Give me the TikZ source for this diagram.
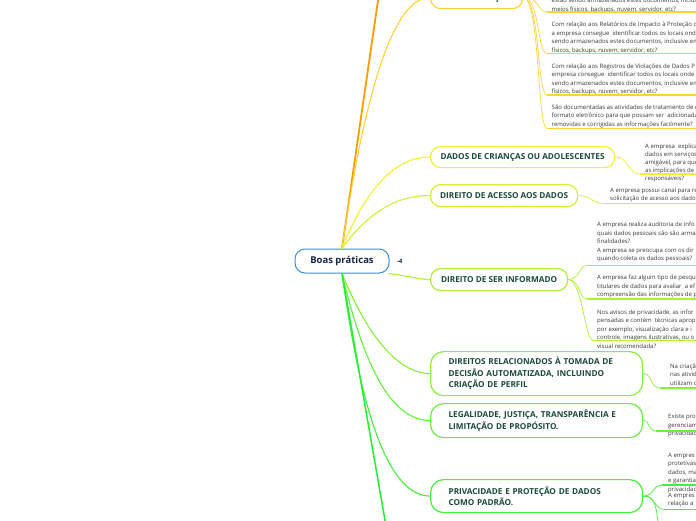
\documentclass[tikz,border=0pt]{standalone}
\usepackage{fontspec}
\setmainfont{Open Sans}
\usetikzlibrary{positioning}
\definecolor{ink}{HTML}{383838}
\definecolor{heading}{HTML}{1A4A3C}
\definecolor{rootblue}{HTML}{3C8FD2}
\definecolor{rootink}{HTML}{17264A}
\definecolor{amber}{HTML}{FF9C00}
\definecolor{docu}{HTML}{FFD334}
\definecolor{kids}{HTML}{F2F22C}
\definecolor{access}{HTML}{D2F22E}
\definecolor{inform}{HTML}{ACF232}
\definecolor{autom}{HTML}{86F236}
\definecolor{legal}{HTML}{64F23A}
\definecolor{bydef}{HTML}{42F23A}
\definecolor{lastbr}{HTML}{22F030}
\tikzset{
  every node/.style={font=\fontsize{6}{8.5}\selectfont,text=ink},
  root/.style={draw=rootblue,line width=1pt,rounded corners=10pt,fill=white,minimum width=94pt,minimum height=24pt,font=\fontsize{9.5}{11}\selectfont\bfseries,text=rootink},
  topic/.style={draw=#1,line width=1.2pt,rounded corners=10pt,fill=white,anchor=north west,inner sep=0pt,font=\fontsize{8.2}{11.5}\selectfont\bfseries,text=heading},
  widetopic/.style={topic=#1,text width=176pt,align=left,inner xsep=18pt,rounded corners=13pt},
  leaf/.style={anchor=north west,inner sep=0pt,align=left,execute at begin node=\strut},
  tightleaf/.style={leaf,font=\fontsize{6}{8}\selectfont},
  branch/.style={draw=#1,line width=1.1pt},
  twig/.style={draw=#1,line width=0.7pt},
  underrule/.style={draw=#1,line width=1.4pt},
}

\begin{document}
\begin{tikzpicture}[x=1pt,y=-1pt]
\useasboundingbox (0,0) rectangle (696,520);
\clip (0,0) rectangle (696,520);
\coordinate (edge) at (700,0);

% centre
\node[root] (root) at (342,261) {Boas práticas};
\node[right=4pt of root,font=\fontsize{6}{7}\selectfont\bfseries,text=rootink] (count) {-4};

% main topics
\node[topic=docu,minimum width=92pt,minimum height=22pt] (docu) at (430,-14) {DOCUMENTAÇÃO};
\node[topic=kids,minimum width=184pt,minimum height=21pt] (kids) at (430,146) {DADOS DE CRIANÇAS OU ADOLESCENTES};
\node[topic=access,minimum width=147pt,minimum height=22pt] (access) at (430,184) {DIREITO DE ACESSO AOS DADOS};
\node[topic=inform,minimum width=137pt,minimum height=22pt] (inform) at (430,268) {DIREITO DE SER INFORMADO};
\node[widetopic=autom,minimum height=44pt] (autom) at (430,351) {DIREITOS RELACIONADOS À TOMADA DE\\DECISÃO AUTOMATIZADA, INCLUINDO\\CRIAÇÃO DE PERFIL};
\node[widetopic=legal,minimum height=34pt] (legal) at (430,403) {LEGALIDADE, JUSTIÇA, TRANSPARÊNCIA E\\LIMITAÇÃO DE PROPÓSITO.};
\node[widetopic=bydef,minimum height=33pt] (bydef) at (430,479) {PRIVACIDADE E PROTEÇÃO DE DADOS\\COMO PADRÃO.};

% branches out of the centre
\coordinate (offtop) at (379.5,-10);
\coordinate (offbottom) at (386.7,530);
\draw[branch=amber,line width=1.8pt] (root.north) -- (offtop);
\draw[branch=docu] (root.north) .. controls (358,140) and (385,-3) .. (docu.west);
\draw[branch=kids] (root.north) .. controls (365,190) and (395,156.5) .. (kids.west);
\draw[branch=access] (root.north) .. controls (368,212) and (398,195) .. (access.west);
\draw[branch=inform] (root.-15) .. controls (405,275) and (415,279) .. (inform.west);
\draw[branch=autom] (root.south) .. controls (365,330) and (395,373) .. (autom.west);
\draw[branch=legal] (root.south) .. controls (365,370) and (392,420) .. (legal.west);
\draw[branch=bydef] (root.south) .. controls (362,420) and (390,495.5) .. (bydef.west);
\draw[branch=lastbr,line width=1.5pt] (root.south) -- (offbottom);

% documentacao
\node[leaf] (docA) at (551.5,-1.8) {estão sendo armazenados estes documentos, inclusive em\\meios físicos, backups, nuvem, servidor, etc?};
\node[leaf] (docB) at (551.5,21.8) {Com relação aos Relatórios de Impacto à Proteção d\\a empresa consegue~ identificar todos os locais ond\\sendo armazenados estes documentos, inclusive em\\físicos, backups, nuvem, servidor, etc?};
\node[leaf] (docC) at (551.5,63.5) {Com relação aos Registros de Violações de Dados P\\empresa consegue~ identificar todos os locais onde e\\sendo armazenados estes documentos, inclusive em\\físicos, backups, nuvem, servidor, etc?};
\node[leaf] (docD) at (551.5,104.5) {São documentadas as atividades de tratamento de d\\formato eletrônico para que possam ser~ adicionada\\removidas e corrigidas as informações facilmente?};
\coordinate (docAu) at (547,12);
\coordinate (docBu) at (547,53.5);
\coordinate (docCu) at (547,95);
\coordinate (docDu) at (547,128.5);
\draw[twig=docu] (docu.east) .. controls (540,-3) and (537,12) .. (docAu);
\draw[twig=docu] (docu.east) .. controls (540,-3) and (537,53.5) .. (docBu);
\draw[twig=docu] (docu.east) .. controls (540,-3) and (537,95) .. (docCu);
\draw[twig=docu] (docu.east) .. controls (540,-3) and (537,128.5) .. (docDu);
\draw[underrule=docu] (docAu) -- (docAu -| edge);
\draw[underrule=docu] (docBu) -- (docBu -| edge);
\draw[underrule=docu] (docCu) -- (docCu -| edge);
\draw[underrule=docu] (docDu) -- (docDu -| edge);

% criancas e acesso
\node[tightleaf] (kidsA) at (645,143.5) {A empresa~ explica\\dados em serviços\\amigável, para que\\as implicações de i\\responsáveis?};
\coordinate (kidsAu) at (640,174);
\draw[twig=kids] (kids.east) .. controls (628,156.5) and (628,174) .. (kidsAu);
\draw[underrule=kids] (kidsAu) -- (kidsAu -| edge);
\node[tightleaf] (accA) at (610,187.5) {A empresa possui canal para re\\solicitação de acesso aos dado};
\coordinate (accAu) at (604,203.5);
\draw[twig=access] (access.east) .. controls (590,195) and (592,203.5) .. (accAu);
\draw[underrule=access] (accAu) -- (accAu -| edge);

% ser informado
\node[leaf] (infA) at (597,222) {A empresa realiza auditoria de info\\quais dados pessoais são são armaz\\finalidades?\\A empresa se preocupa com os dir\\quando coleta os dados pessoais?};
\node[leaf] (infB) at (597,275) {A empresa faz algum tipo de pesqu\\titulares de dados para avaliar~ a ef\\compreensão das informações de p};
\node[leaf] (infC) at (597,309.5) {Nos avisos de privacidade, as infor\\pensadas e contém~ técnicas aprop\\por exemplo, visualização clara e i\\controle, imagens ilustrativas, ou o\\visual recomendada?};
\coordinate (infAu) at (587,265.5);
\coordinate (infBu) at (587,299);
\coordinate (infCu) at (593,340.5);
\draw[twig=inform] (inform.east) .. controls (580,279) and (579,265.5) .. (infAu);
\draw[twig=inform] (inform.east) .. controls (580,279) and (579,299) .. (infBu);
\draw[twig=inform] (inform.east) .. controls (582,279) and (585,340.5) .. (infCu);
\draw[underrule=inform] (infAu) -- (infAu -| edge);
\draw[underrule=inform] (infBu) -- (infBu -| edge);
\draw[underrule=inform] (infCu) -- (infCu -| edge);

% decisao automatizada, legalidade
\node[leaf] (autA) at (670,363.5) {Na criaçã\\nas ativid\\utilizam d};
\coordinate (autAu) at (660,388);
\draw[twig=autom] (autom.east) .. controls (652,373) and (650,388) .. (autAu);
\draw[underrule=autom] (autAu) -- (autAu -| edge);
\node[leaf] (legA) at (668,414.2) {Existe pro\\gerenciam\\privacidad};
\coordinate (legAu) at (656,431);
\draw[twig=legal] (legal.east) .. controls (650,420) and (648,431) .. (legAu);
\draw[underrule=legal] (legAu) -- (legAu -| edge);

% privacidade por padrao
\node[leaf] (defA) at (668,452.5) {A empres\\protetivas\\dados, ma\\e garantia\\privacidad};
\node[leaf] (defB) at (668,492.5) {A empres\\relação a};
\coordinate (defAu) at (662,485);
\coordinate (defBu) at (665,509.5);
\coordinate (offdef) at (659,530);
\draw[twig=bydef] (bydef.east) .. controls (655,495.5) and (652,485) .. (defAu);
\draw[twig=bydef] (bydef.east) .. controls (655,495.5) and (654,509.5) .. (defBu);
\draw[twig=bydef] (bydef.east) .. controls (655,495.5) and (656,505) .. (offdef);
\draw[underrule=bydef] (defAu) -- (defAu -| edge);
\draw[underrule=bydef] (defBu) -- (defBu -| edge);
\end{tikzpicture}
\end{document}
